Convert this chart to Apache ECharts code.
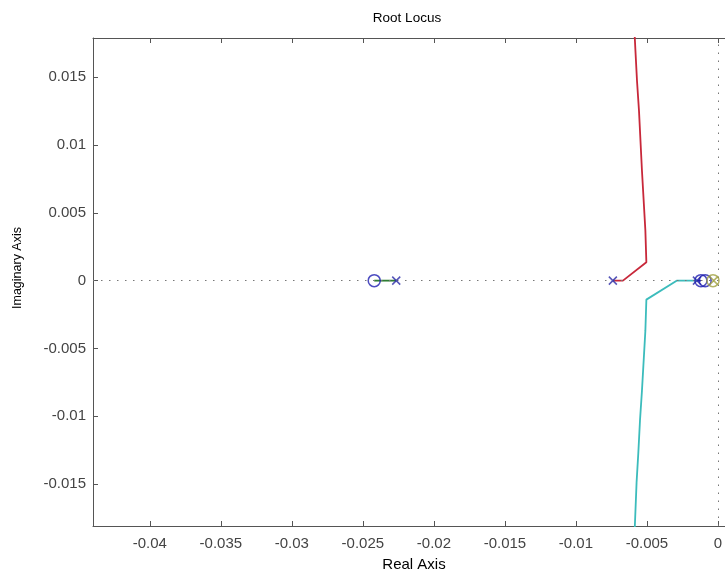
<!DOCTYPE html>
<html>
<head>
<meta charset="utf-8">
<script src="https://cdn.jsdelivr.net/npm/echarts@6/dist/echarts.min.js"></script>
<style>
html,body{margin:0;padding:0;background:#fff;overflow:hidden;width:725px;height:580px;}
#chart{width:735px;height:580px;}
</style>
</head>
<body>
<div id="chart"></div>
<script>
// ---- data ----
const xTicks = [-0.04, -0.035, -0.03, -0.025, -0.02, -0.015, -0.01, -0.005, 0];
const yTicks = [-0.015, -0.01, -0.005, 0, 0.005, 0.01, 0.015];

const greenBranch = [[-0.02265, 0], [-0.0242, 0]];
const redBranch = [
  [-0.0074, 0], [-0.00669, 0], [-0.00504, 0.00136], [-0.00511, 0.00369],
  [-0.00535, 0.00811], [-0.00556, 0.01254], [-0.0057, 0.01475],
  [-0.00581, 0.01697], [-0.00588, 0.01844]
];
const cyanBranch = [
  [-0.00148, 0], [-0.00291, 0], [-0.00504, -0.0014], [-0.00511, -0.00369],
  [-0.00535, -0.00811], [-0.00549, -0.01033], [-0.00561, -0.01276],
  [-0.00573, -0.0149], [-0.00585, -0.01807], [-0.00588, -0.0188]
];
const blueBranch = [[-0.00148, 0], [-0.0012, 0]];
const olivBranch = [[-0.0003, 0], [-0.00035, 0]];

const bluePoles = [[-0.02265, 0], [-0.0074, 0], [-0.00148, 0]];
const blueZeros = [[-0.0242, 0], [-0.0012, 0], [-0.0009, 0]];
const olivePoles = [[-0.0003, 0]];
const oliveZeros = [[-0.00035, 0]];

// ---- chart ----
const FONT = '"Liberation Sans", Arial, sans-serif';
const AX = '#555';
const chart = echarts.init(document.getElementById('chart'), null, {renderer: 'canvas', width: 735, height: 580});
const xPath = 'path://M0,0L10,10M10,0L0,10';

function lineSeries(data, color) {
  return {type: 'line', data: data, showSymbol: false, symbol: 'none', clip: true,
    lineStyle: {color: color, width: 1.8}, z: 3, animation: false};
}
function markSeries(data, symbol, color, size) {
  return {type: 'scatter', data: data, symbol: symbol, symbolSize: size,
    itemStyle: {color: 'none', borderColor: color, borderWidth: 1.5}, z: 5, animation: false};
}

chart.setOption({
  animation: false,
  backgroundColor: '#fff',
  grid: {left: 93, top: 38, bottom: 54, right: 0, show: false},
  graphic: [
    {type: 'text', x: 407, y: 18, style: {text: 'Root Locus', align: 'center', verticalAlign: 'middle', font: '13.5px ' + FONT, fill: '#000'}},
    {type: 'text', x: 18, y: 268, rotation: Math.PI / 2, style: {text: 'Imaginary Axis', align: 'center', verticalAlign: 'middle', font: '12.5px ' + FONT, fill: '#000'}}
  ],
  xAxis: [{
    type: 'value', min: -0.044, max: 0.0012, position: 'bottom',
    name: 'Real Axis', nameLocation: 'middle', nameGap: 31,
    nameTextStyle: {fontFamily: FONT, fontSize: 15, color: '#000'},
    axisLine: {show: true, onZero: false, lineStyle: {color: AX}},
    axisTick: {show: true, inside: true, length: 5, customValues: xTicks, lineStyle: {color: AX}},
    axisLabel: {customValues: xTicks, fontFamily: FONT, fontSize: 15, color: '#444', margin: 10, formatter: v => String(v)},
    splitLine: {show: false}
  }, {
    type: 'value', min: -0.044, max: 0.0012, position: 'top',
    axisLine: {show: true, onZero: false, lineStyle: {color: AX}},
    axisTick: {show: true, inside: true, length: 5, customValues: xTicks, lineStyle: {color: AX}},
    axisLabel: {show: false},
    splitLine: {show: false}
  }],
  yAxis: [{
    type: 'value', min: -0.0181, max: 0.0179, position: 'left',
    axisLine: {show: true, onZero: false, lineStyle: {color: AX}},
    axisTick: {show: true, inside: true, length: 5, customValues: yTicks, lineStyle: {color: AX}},
    axisLabel: {customValues: yTicks, fontFamily: FONT, fontSize: 15, color: '#444', margin: 7, formatter: v => String(v)},
    splitLine: {show: false}
  }],
  series: [
    {type: 'line', data: [], markLine: {silent: true, symbol: 'none', label: {show: false},
      lineStyle: {color: '#777', type: [1.5, 6.5], width: 1},
      data: [{yAxis: 0}, {xAxis: 0}]}, z: 1},
    lineSeries(greenBranch, '#2e7d32'),
    lineSeries(redBranch, '#c8283a'),
    lineSeries(cyanBranch, '#3cbcbc'),
    lineSeries(blueBranch, '#1f1fb0'),
    lineSeries(olivBranch, '#a8a830'),
    markSeries(bluePoles, xPath, '#2a2aa8', 8),
    markSeries(blueZeros, 'circle', '#1f1fb0', 12),
    markSeries(olivePoles, xPath, '#a0a040', 8),
    markSeries(oliveZeros, 'circle', '#a0a040', 12)
  ]
});
</script>
</body>
</html>
